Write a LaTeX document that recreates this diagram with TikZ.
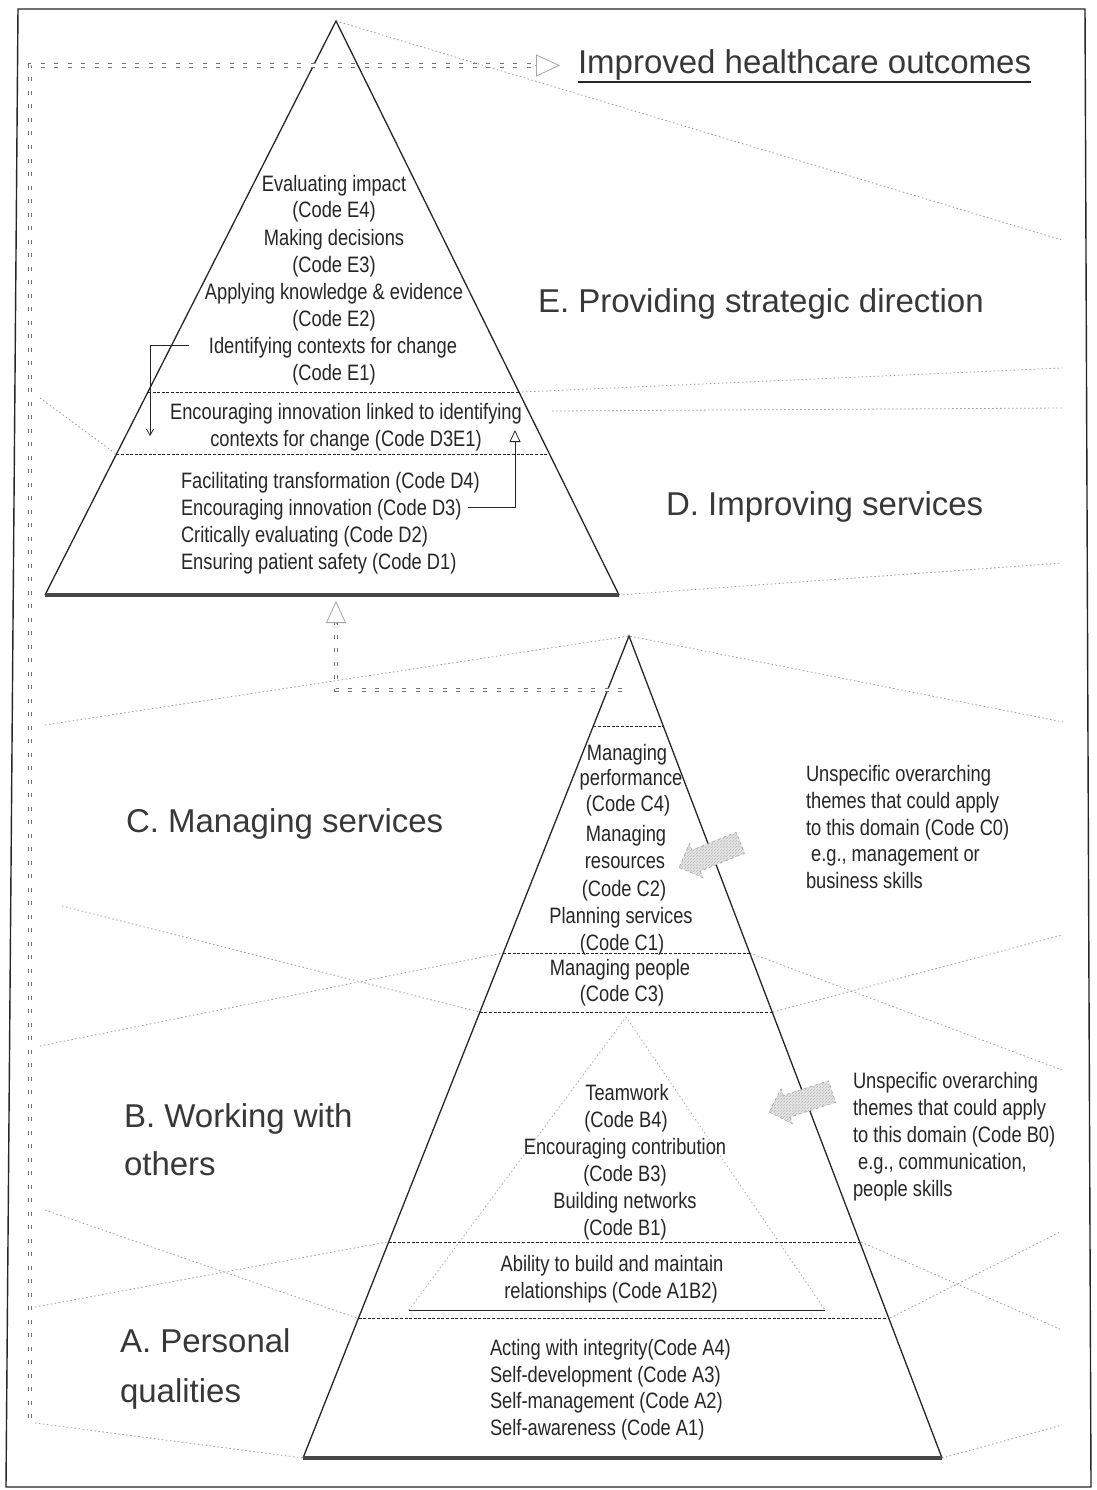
\documentclass[tikz,border=0pt]{standalone}
\usepackage{fontspec}
\setmainfont{Liberation Sans}
\newfontfamily\narrowfont{Liberation Sans}[FakeStretch=0.82]
\usetikzlibrary{calc,arrows.meta,shapes.arrows,patterns}
\definecolor{ink}{HTML}{262626}
\definecolor{lab}{HTML}{383838}
\definecolor{straycol}{HTML}{9C9C9C}
\begin{document}
\begin{tikzpicture}[x=1pt,y=-1pt,
  every node/.style={inner sep=0pt,outer sep=0pt},
  ln/.style={font=\narrowfont\fontsize{22.3}{27}\selectfont,text=ink,anchor=base},
  lnw/.style={ln,anchor=base west},
  big/.style={font=\fontsize{33}{48}\selectfont,text=lab,anchor=base west},
  side/.style={draw=ink,line width=1.3pt},
  basel/.style={draw=ink!85,line width=3.6pt},
  tier/.style={draw=ink,line width=0.8pt,dash pattern=on 3pt off 1.6pt},
  stray/.style={draw=straycol,line width=0.8pt,dash pattern=on 1.5pt off 2.5pt},
  fbk/.style={draw=black!55,line width=1pt,double=white,double distance=2.6pt,dash pattern=on 4pt off 9.5pt},
  fbtip/.style={draw=gray!70,line width=0.8pt,-{Triangle[open,length=24pt,width=22pt]}},
  elbow/.style={draw=ink,line width=0.8pt},
  blockarrow/.style={single arrow,draw=gray!75,dashed,line width=0.6pt,fill=gray!22,
    inner xsep=0pt,inner ysep=11pt,single arrow head extend=7pt,minimum height=66pt,
    postaction={pattern=north east lines,pattern color=gray!55}},
]
\useasboundingbox (0,0) rectangle (1096,1490);
\fill[white] (0,0) rectangle (1096,1490);
% frame
\draw[draw=ink,line width=1.4pt] (18,9) -- (1085,9) -- (1091,1487) -- (6,1487) -- cycle;

% stray perspective lines
\draw[stray] (336,21) -- (1062,240);
\draw[stray] (522,392) -- (1062,368);
\draw[stray] (552,411) -- (1062,408);
\draw[stray] (40,398) -- (116,454);
\draw[stray] (619,595) -- (1062,563);
\draw[stray] (45,725) -- (629,636) -- (1063,722);
\draw[stray] (62,906) -- (479,1012);
\draw[stray] (40,1046) -- (503,953);
\draw[stray] (750,953) -- (1062,1070);
\draw[stray] (773,1012) -- (1062,935);
\draw[stray] (45,1210) -- (357,1318);
\draw[stray] (35,1307) -- (387,1242);
\draw[stray] (861,1242) -- (1062,1330);
\draw[stray] (890,1318) -- (1060,1232);
\draw[stray] (35,1423) -- (303,1458);
\draw[stray] (942,1458) -- (1062,1425);

% key points
\coordinate (TA) at (336,21);
\coordinate (TL) at (45,595);
\coordinate (TR) at (619,595);
\coordinate (BA) at (629,636);
\coordinate (BL) at (303,1458);
\coordinate (BR) at (942,1458);
\coordinate (IA) at (626,1017);
\coordinate (IL) at (409,1310);
\coordinate (IR) at (825,1310);

% top pyramid
\draw[side] (TL) -- (TA) -- (TR);
\draw[basel] (TL) -- (TR);
\draw[tier] ($(TA)!0.6463!(TL)$) -- ($(TA)!0.6463!(TR)$);
\draw[tier] ($(TA)!0.7544!(TL)$) -- ($(TA)!0.7544!(TR)$);

% bottom pyramid
\draw[side] (BL) -- (BA) -- (BR);
\draw[basel] (BL) -- (BR);
\draw[tier] ($(BA)!0.1095!(BL)$) -- ($(BA)!0.1095!(BR)$);
\draw[tier] ($(BA)!0.3856!(BL)$) -- ($(BA)!0.3856!(BR)$);
\draw[tier] ($(BA)!0.4574!(BL)$) -- ($(BA)!0.4574!(BR)$);
\draw[tier] ($(BA)!0.7372!(BL)$) -- ($(BA)!0.7372!(BR)$);
\draw[tier] ($(BA)!0.8297!(BL)$) -- ($(BA)!0.8297!(BR)$);
% inner pyramid
\draw[stray,draw=gray!65] (IL) -- (IA) -- (IR);
\draw[draw=ink,line width=0.9pt] (IL) -- (IR);

% title
\node[big,font=\fontsize{33}{40}\selectfont] (title) at (578,74) {Improved healthcare outcomes};
\draw[draw=ink,line width=1.6pt] ($(title.base west)+(0,8)$) -- ($(title.base east)+(0,8)$);

% big domain labels
\node[big] (labE) at (538,312) {E. Providing strategic direction};
\node[big] (labD) at (666,515) {D. Improving services};
\node[big] (labC) at (126,832) {C. Managing services};
\node[big] (labB1) at (124,1127) {B. Working with};
\node[big] (labB2) at (124,1175) {others};
\node[big] (labA1) at (120,1352) {A. Personal};
\node[big] (labA2) at (120,1402) {qualities};

% E tier
\node[ln] (e4) at (334,191) {Evaluating impact};
\node[ln] (e4c) at (334,218) {(Code E4)};
\node[ln] (e3) at (334,245) {Making decisions};
\node[ln] (e3c) at (334,272) {(Code E3)};
\node[ln] (e2) at (334,299) {Applying knowledge \& evidence};
\node[ln] (e2c) at (334,326) {(Code E2)};
\node[ln] (e1) at (333,353) {Identifying contexts for change};
\node[ln] (e1c) at (334,380) {(Code E1)};
% D3E1
\node[ln] (de1) at (346,419) {Encouraging innovation linked to identifying};
\node[ln] (de2) at (346,446) {contexts for change (Code D3E1)};
% D tier
\node[lnw] (d4) at (181,488) {Facilitating transformation (Code D4)};
\node[lnw] (d3) at (181,515) {Encouraging innovation (Code D3)};
\node[lnw] (d2) at (181,542) {Critically evaluating (Code D2)};
\node[lnw] (d1) at (181,569) {Ensuring patient safety (Code D1)};

% elbow arrows
\coordinate (e1tip) at (150,436);
\coordinate (d3tip) at (515,430);
\draw[elbow,-{Straight Barb[length=6pt,width=7pt]}] ($(e1.base west)+(-20,-8)$) -| (e1tip);
\draw[elbow,-{Triangle[open,length=12pt,width=11pt]}] ($(d3.base east)+(6,-8)$) -| (d3tip);

% C tier
\node[ln] (c4a) at (627,760) {Managing};
\node[ln] (c4b) at (631,785) {performance};
\node[ln] (c4c) at (628,811) {(Code C4)};
\node[ln] (c2a) at (626,841) {Managing};
\node[ln] (c2b) at (625,868) {resources};
\node[ln] (c2c) at (624,896) {(Code C2)};
\node[ln] (c1a) at (621,923) {Planning services};
\node[ln] (c1b) at (622,950) {(Code C1)};
\node[ln] (c3a) at (620,975) {Managing people};
\node[ln] (c3b) at (622,1001) {(Code C3)};

% B tier
\node[ln] (b4a) at (627,1100) {Teamwork};
\node[ln] (b4b) at (626,1127) {(Code B4)};
\node[ln] (b3a) at (625,1154) {Encouraging contribution};
\node[ln] (b3b) at (625,1181) {(Code B3)};
\node[ln] (b1a) at (625,1208) {Building networks};
\node[ln] (b1b) at (625,1235) {(Code B1)};
\node[ln] (ab1) at (612,1271) {Ability to build and maintain};
\node[ln] (ab2) at (611,1298) {relationships (Code A1B2)};

% A tier
\node[lnw] (a4) at (490,1355) {Acting with integrity(Code A4)};
\node[lnw] (a3) at (490,1382) {Self-development (Code A3)};
\node[lnw] (a2) at (490,1408) {Self-management (Code A2)};
\node[lnw] (a1) at (490,1435) {Self-awareness (Code A1)};

% side notes
\node[lnw] (c0a) at (806,781) {Unspecific overarching};
\node[lnw] (c0b) at (806,808) {themes that could apply};
\node[lnw] (c0c) at (806,835) {to this domain (Code C0)};
\node[lnw] (c0d) at (806,861) {\ e.g., management or};
\node[lnw] (c0e) at (806,888) {business skills};
\node[lnw] (b0a) at (853,1088) {Unspecific overarching};
\node[lnw] (b0b) at (853,1115) {themes that could apply};
\node[lnw] (b0c) at (853,1142) {to this domain (Code B0)};
\node[lnw] (b0d) at (853,1169) {\ e.g., communication,};
\node[lnw] (b0e) at (853,1196) {people skills};

% block arrows
\node[blockarrow,rotate=202] (barC) at (715,853) {};
\node[blockarrow,rotate=198] (barB) at (806,1100) {};

% feedback arrows
\coordinate (fbStart) at (30,1418);
\coordinate (fbEnd) at ($(title.west)+(-18,0)$);
\draw[fbk,shorten >=24pt] (fbStart) |- (fbEnd);
\draw[fbtip] ($(fbEnd)+(-25,0)$) -- (fbEnd);
\coordinate (fb2Start) at (622,690);
\coordinate (fb2End) at (336,601);
\draw[fbk,shorten >=22pt] (fb2Start) -| (fb2End);
\draw[fbtip,-{Triangle[open,length=22pt,width=20pt]}] ($(fb2End)+(0,23)$) -- (fb2End);
\end{tikzpicture}
\end{document}
